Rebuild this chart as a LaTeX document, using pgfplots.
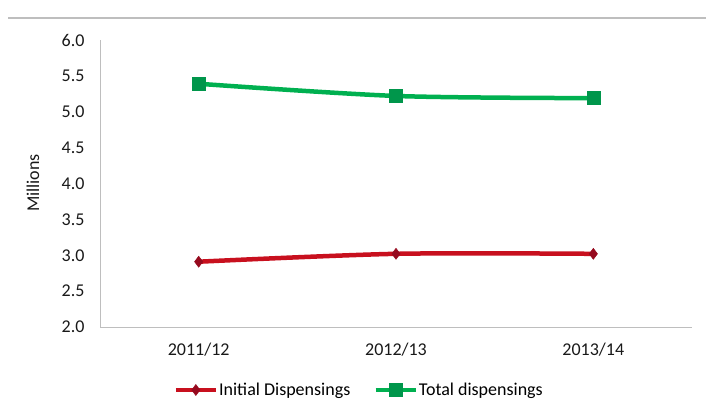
\documentclass[border=0pt]{standalone}
\usepackage{pgfplots}
\pgfplotsset{compat=1.18}
\usepackage{fontspec}
\setmainfont{Carlito}
\definecolor{redline}{RGB}{200,16,30}
\definecolor{redmark}{RGB}{150,10,30}
\definecolor{greenline}{RGB}{0,176,80}
\definecolor{greenmark}{RGB}{0,150,75}
\definecolor{axgray}{RGB}{190,190,190}
\begin{document}
\begin{tikzpicture}[x=1pt,y=1pt]
\useasboundingbox (0,0) rectangle (706,399);
\draw[axgray,line width=1.2pt] (8,381) -- (706,381);
\begin{axis}[
  at={(100pt,72pt)}, anchor=south west,
  scale only axis, width=592pt, height=287pt,
  xmin=-0.5, xmax=2.5, ymin=2, ymax=6,
  xtick={0,1,2}, xticklabels={2011/12,2012/13,2013/14},
  ytick={2,2.5,...,6},
  yticklabel style={/pgf/number format/fixed,/pgf/number format/fixed zerofill,/pgf/number format/precision=1},
  /pgf/number format/assume math mode=true,
  tick style={draw=none},
  axis x line*=bottom, axis y line*=left,
  axis line style={axgray,line width=1pt,-},
  ticklabel style={font=\fontsize{18}{21}\selectfont, text=black!90},
  yticklabel style={xshift=-12pt},
  xticklabel style={yshift=-12pt},
  legend style={at={(axis description cs:0.437,-0.2195)}, anchor=center, draw=none, fill=none, font=\fontsize{18}{21}\selectfont,
    legend columns=2, /tikz/every even column/.append style={column sep=22pt},
    nodes={inner xsep=1pt}},
  legend image code/.code={\draw[#1,mark repeat=2,mark phase=2] plot coordinates {(0pt,0pt) (20pt,0pt) (40pt,0pt)};},
  legend cell align=left,
  clip=false,
]
\addplot[redline, line width=4.5pt, smooth, tension=0.5, mark=diamond*, mark size=5.5pt,
  mark options={fill=redmark, draw=redmark, line width=0.5pt}] coordinates {(0,2.91) (1,3.02) (2,3.02)};
\addlegendentry{Initial Dispensings}
\addplot[greenline, line width=4.5pt, smooth, tension=0.5, mark=square*, mark size=6.5pt,
  mark options={fill=greenmark, draw=greenmark, line width=0.5pt}] coordinates {(0,5.39) (1,5.22) (2,5.19)};
\addlegendentry{Total dispensings}
\end{axis}
\node[rotate=90, font=\fontsize{18}{21}\selectfont, text=black!90] at (33,216) {Millions};
\end{tikzpicture}
\end{document}
